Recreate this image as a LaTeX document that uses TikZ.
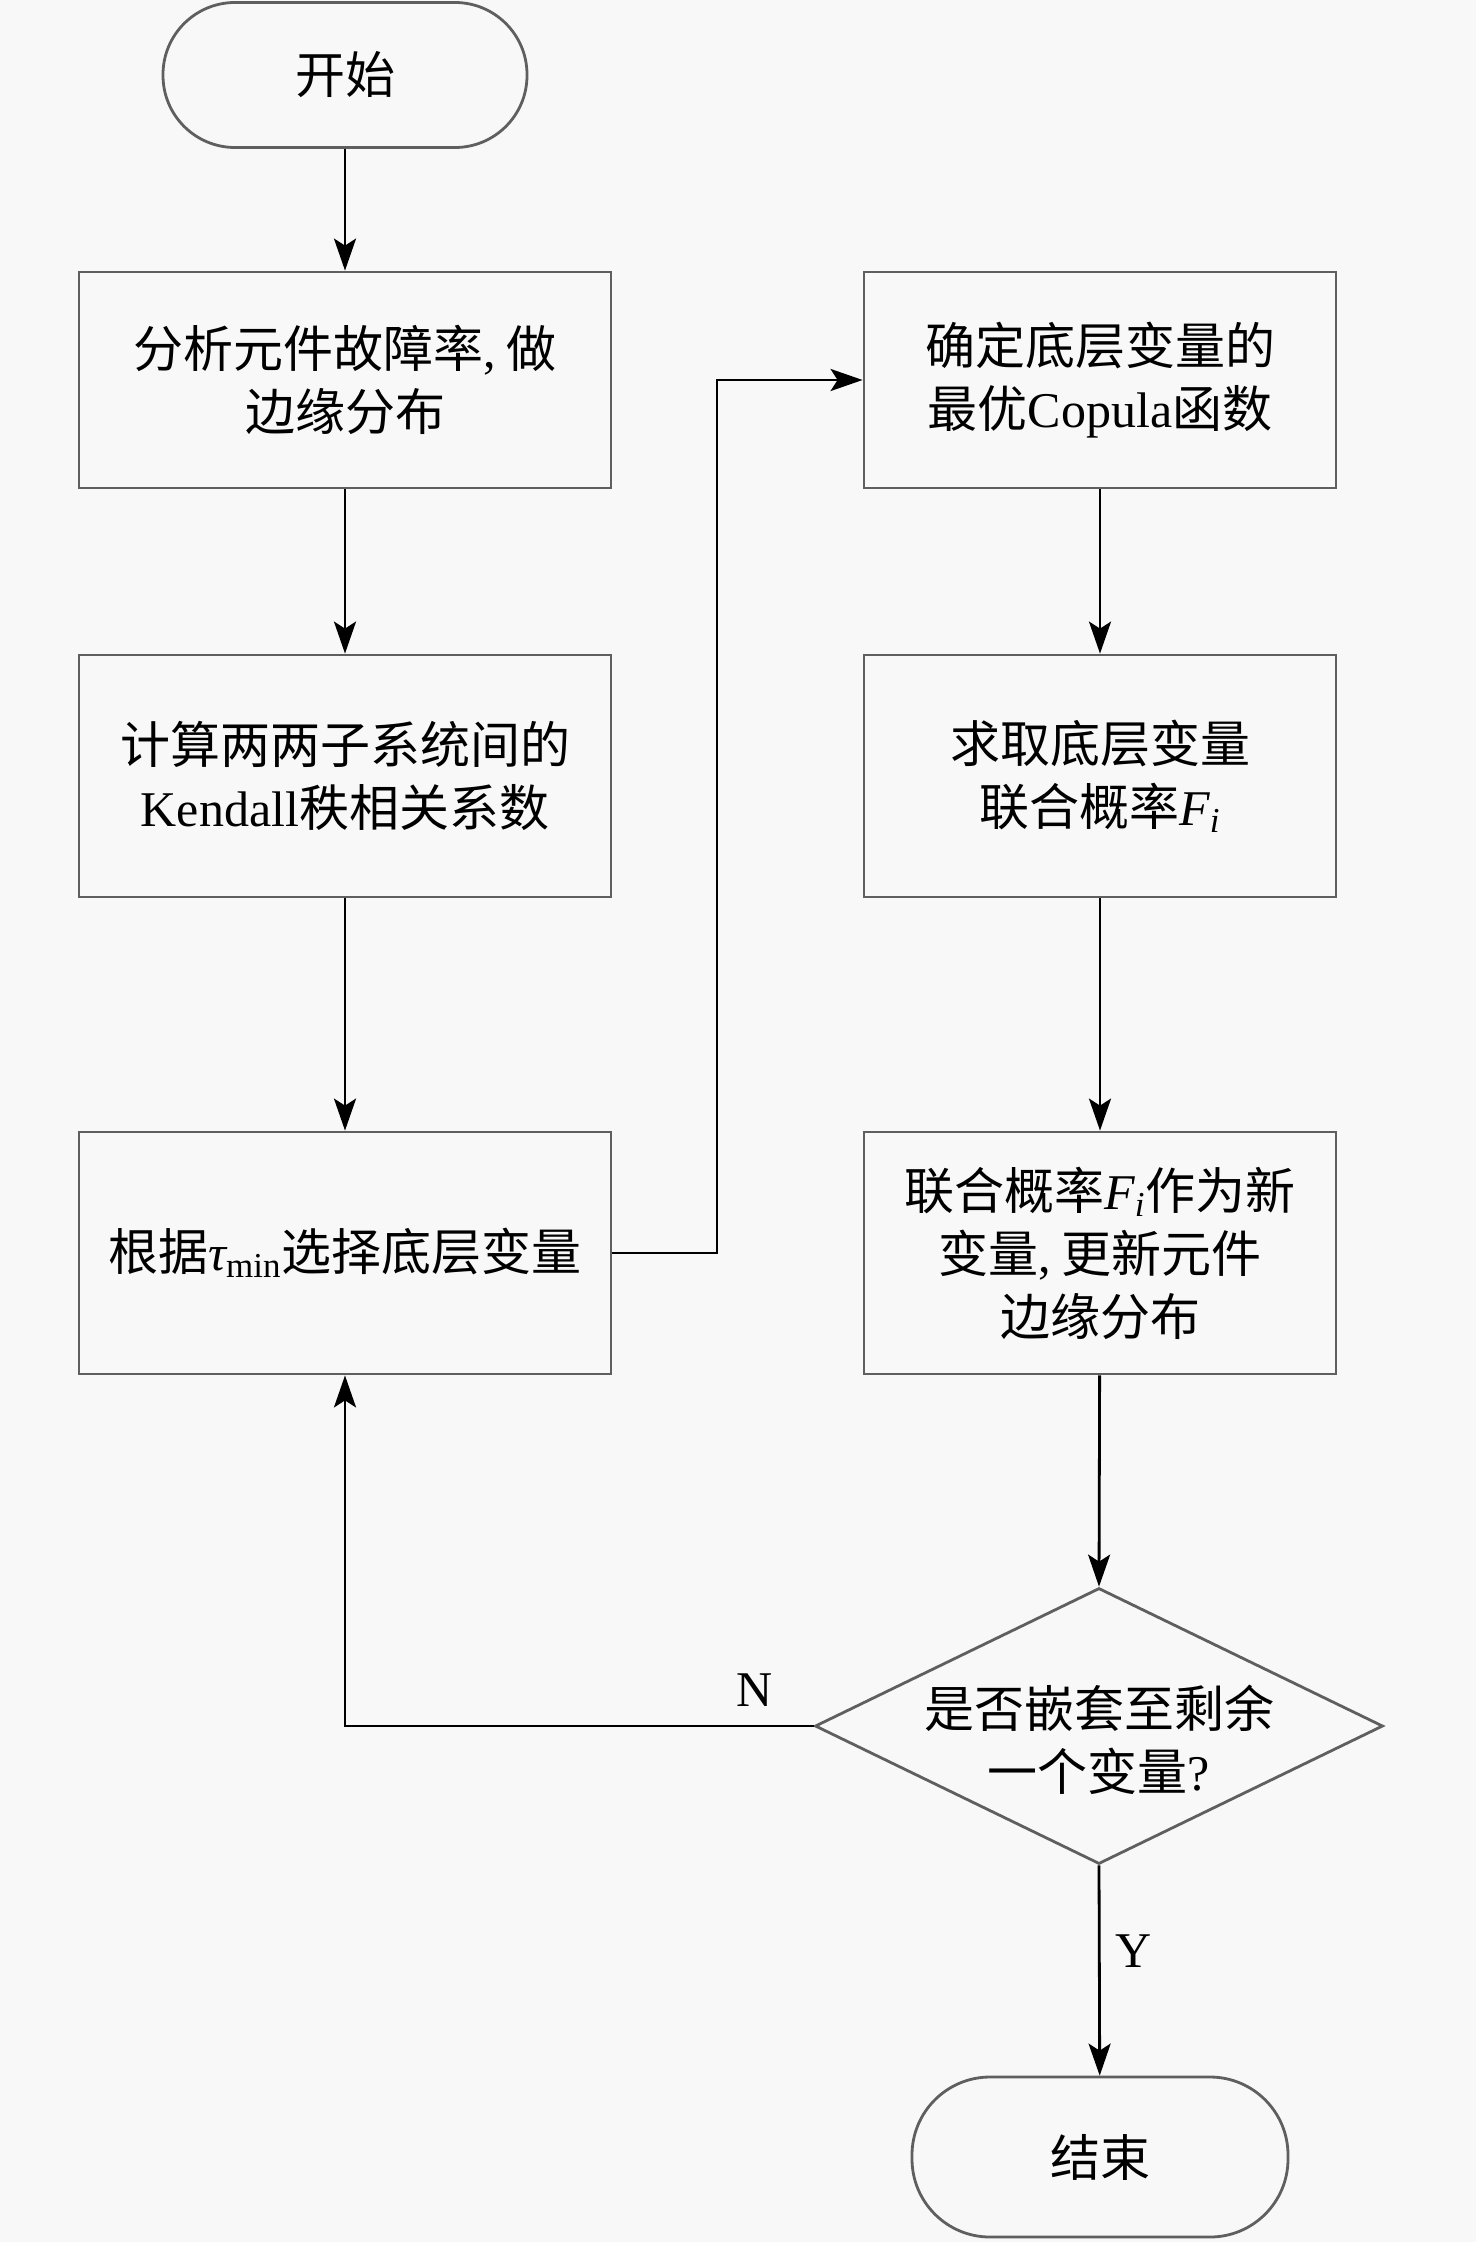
\documentclass[tikz,border=0pt]{standalone}
\usepackage{fontspec}
\setmainfont{Liberation Serif}
\newfontfamily\cjk{Noto Sans CJK SC}
\usetikzlibrary{shapes.geometric,arrows.meta}
\definecolor{bg}{RGB}{248,248,248}
\definecolor{edge}{RGB}{95,95,95}
\tikzset{
  procbox/.style={draw=edge, line width=1.4pt, rectangle, align=center,
    font=\cjk\fontsize{25}{31.5}\selectfont, inner sep=0pt},
  termbox/.style={draw=edge, line width=1.4pt, rectangle, align=center,
    font=\cjk\fontsize{25}{31.5}\selectfont, inner sep=0pt},
  decbox/.style={draw=edge, line width=1.4pt, diamond, inner sep=0pt},
  dectext/.style={align=center, font=\cjk\fontsize{25}{31.5}\selectfont, inner sep=0pt},
  arr/.style={line width=1.4pt, draw=black, -{Stealth[length=16pt,width=11pt,inset=3.5pt]}},
  lbl/.style={font=\fontsize{25}{30}\selectfont, inner sep=0pt}
}
\begin{document}
\begin{tikzpicture}[x=0.5pt,y=-0.5pt]
\fill[bg] (0,0) rectangle (1476,2242);
\useasboundingbox (0,0) rectangle (1476,2242);

\node[termbox, rounded corners=36pt, minimum width=182pt, minimum height=72.5pt] (start) at (345,75) {开始};
\node[procbox, minimum width=266pt, minimum height=108pt] (b1) at (345,380)
  {分析元件故障率{\rmfamily,} 做\\边缘分布};
\node[procbox, minimum width=266pt, minimum height=121pt] (b2) at (345,776)
  {计算两两子系统间的\\{\rmfamily Kendall}秩相关系数};
\node[procbox, minimum width=266pt, minimum height=121pt] (b3) at (345,1253)
  {根据{\rmfamily\itshape τ}{\rmfamily\textsubscript{min}}选择底层变量};
\node[procbox, minimum width=236pt, minimum height=108pt] (r1) at (1100,380)
  {确定底层变量的\\最优{\rmfamily Copula}函数};
\node[procbox, minimum width=236pt, minimum height=121pt] (r2) at (1100,776)
  {求取底层变量\\联合概率{\rmfamily\itshape F\textsubscript{i}}};
\node[procbox, minimum width=236pt, minimum height=121pt] (r3) at (1100,1253)
  {联合概率{\rmfamily\itshape F\textsubscript{i}}作为新\\变量{\rmfamily,} 更新元件\\边缘分布};
\node[decbox, minimum width=284pt, minimum height=138pt] (dec) at (1099,1726) {};
\node[dectext] (dect) at (1099,1740) {是否嵌套至剩余\\一个变量{\rmfamily ?}};
\node[termbox, rounded corners=39pt, minimum width=188pt, minimum height=80pt] (end) at (1100,2157) {结束};

\coordinate (j1) at (717,1253);
\draw[arr] (start) -- (b1);
\draw[arr] (b1) -- (b2);
\draw[arr] (b2) -- (b3);
\draw[arr] (b3.east) -- (j1) |- (r1.west);
\draw[arr] (r1) -- (r2);
\draw[arr] (r2) -- (r3);
\draw[arr] (r3) -- (dec.north);
\draw[arr] (dec.south) -- (end);
\draw[arr] (dec.west) -| (b3.south);

\node[lbl] (nlab) at (755,1690) {N};
\node[lbl] (ylab) at (1134,1951) {Y};
\end{tikzpicture}
\end{document}
